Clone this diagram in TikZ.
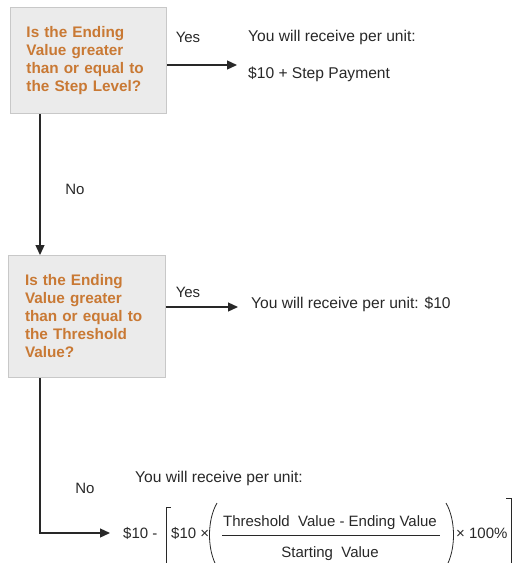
\documentclass[tikz,border=0pt]{standalone}
\usepackage{fontspec}
\setmainfont{Liberation Sans}
\usetikzlibrary{arrows.meta}

\definecolor{qorange}{RGB}{201,121,52}
\definecolor{boxfill}{RGB}{235,235,235}
\definecolor{boxline}{RGB}{200,200,200}
\definecolor{ink}{RGB}{40,40,40}

\tikzset{
    question/.style={draw=boxline, fill=boxfill, line width=1pt, anchor=north west,
        text=qorange, font=\fontsize{15.3}{18}\selectfont\bfseries, align=left,
        text width=124pt, inner xsep=16pt},
    label/.style={text=ink, font=\fontsize{15}{18}\selectfont, inner sep=0pt},
    answer/.style={label, font=\fontsize{15.6}{18}\selectfont, anchor=west},
    flow/.style={draw=ink, line width=1.3pt, -{Triangle[length=10pt,width=9pt]}}
}

\begin{document}
\begin{tikzpicture}[x=1pt, y=-1pt]
    % Frame of the picture
    \clip (0,0) rectangle (514,563);

    % Drawing the two questions
    \node[question, minimum width=156pt, minimum height=106pt] (q1) at (10,7)
        {Is the Ending\\Value greater\\than or equal to\\the Step Level?};
    \node[question, minimum width=157pt, minimum height=122pt] (q2) at (8,255)
        {Is the Ending\\Value greater\\than or equal to\\the Threshold\\Value?};

    % Drawing the answers
    \node[answer] (res1) at (248,37) {You will receive per unit:};
    \node[answer] (pay1) at (248,74) {\$10 + Step Payment};
    \node[answer] (res2) at (251,304) {You will receive per unit: \$10};
    \node[answer] (res3) at (135,478) {You will receive per unit:};

    % Drawing the branch labels
    \node[label] (yes1) at (188,37) {Yes};
    \node[label] (yes2) at (188,292) {Yes};
    \node[label] (no1) at (75,189) {No};
    \node[label] (no2) at (85,488) {No};

    % Drawing the connectors
    \coordinate (trunk) at (40,0);
    \coordinate (r1) at (237,65);
    \coordinate (r2) at (238,307);
    \coordinate (r3) at (110,533);
    \draw[flow] (q1.east |- r1) -- (r1);
    \draw[flow] (q2.east |- r2) -- (r2);
    \draw[flow] (q1.south -| trunk) -- (q2.north -| trunk);
    \draw[flow] (q2.south -| trunk) |- (r3);

    % Drawing the formula
    \node[label, anchor=west] (f0) at (123,533) {\$10 -};
    \draw[ink, line width=0.8pt] (171,507) -- (166,507) -- (166,575);
    \node[label, anchor=west] (f1) at (171,533) {\$10 ×};
    \draw[ink, line width=0.8pt] (217,503) .. controls (207,520) and (207,550) .. (217,567);
    \node[label] (num) at (330,523) {Threshold\ \ Value - Ending Value};
    \draw[ink, line width=1pt] (222,535) -- (440,535);
    \node[label] (den) at (330,554) {Starting\ \ Value};
    \draw[ink, line width=0.8pt] (446,503) .. controls (456,520) and (456,550) .. (446,567);
    \node[label, anchor=west] (f2) at (456,533) {× 100\%};
    \draw[ink, line width=0.8pt] (506,498) -- (511,498) -- (511,575);
\end{tikzpicture}
\end{document}
